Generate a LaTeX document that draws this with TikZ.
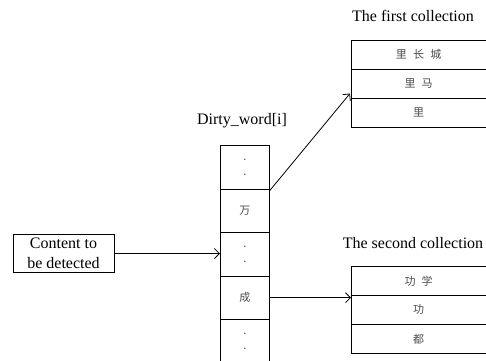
\documentclass[tikz,border=0pt]{standalone}
\usepackage{fontspec}
\setmainfont{Liberation Serif}
\newfontfamily\cjk[WordSpace=2.5]{Noto Sans CJK SC}
\usetikzlibrary{arrows.meta,calc}
\begin{document}
\begin{tikzpicture}[x=1pt,y=-1pt,
  cell/.style={draw, line width=0.8pt, minimum width=49pt, minimum height=43.5pt, inner sep=0pt, anchor=north west,
    font=\cjk\fontsize{11}{15}\selectfont, text=black!70, align=center},
  setcell/.style={draw, line width=0.8pt, minimum width=134.5pt, minimum height=29pt, inner sep=0pt, anchor=north west,
    font=\cjk\fontsize{11}{13}\selectfont, text=black!70},
  lbl/.style={font=\fontsize{16}{20}\selectfont, inner sep=0pt},
  box/.style={draw, line width=0.8pt, minimum width=101pt, minimum height=38pt, inner sep=0pt, align=center,
    font=\fontsize{16}{20}\selectfont},
  arr/.style={-{Straight Barb[length=5pt,width=10pt]}, line width=0.8pt}]
\useasboundingbox (0,0) rectangle (486,360);

% input box
\node[box] (content) at (63.5,253.5) {Content to\\be detected};

% Dirty_word column
\node[lbl] (dwl) at (242,121) {Dirty\_word[i]};
\node[cell] (c1) at (220,145) {.\\.};
\node[cell] (c2) at (220,188.5) {万};
\node[cell] (c3) at (220,232) {.\\.};
\node[cell] (c4) at (220,275.5) {成};
\node[cell] (c5) at (220,319) {.\\.};

% first collection
\node[lbl] (t1) at (413,16) {The first collection};
\node[setcell] (f1) at (351,39.5) {里 长 城};
\node[setcell] (f2) at (351,68.5) {里 马};
\node[setcell] (f3) at (351,97.5) {里};

% second collection
\node[lbl] (t2) at (413,243) {The second collection};
\node[setcell] (s1) at (351,266) {功 学};
\node[setcell] (s2) at (351,295) {功};
\node[setcell] (s3) at (351,324) {都};

% connectors
\draw[arr] (content.east) -- (content.east -| c3.west);
\draw[arr] ($(c2.north east)+(0,2)$) -- ($(f3.north west)+(-1,-4)$);
\draw[arr] (c4.east) -- (c4.east -| s2.west);
\end{tikzpicture}
\end{document}
